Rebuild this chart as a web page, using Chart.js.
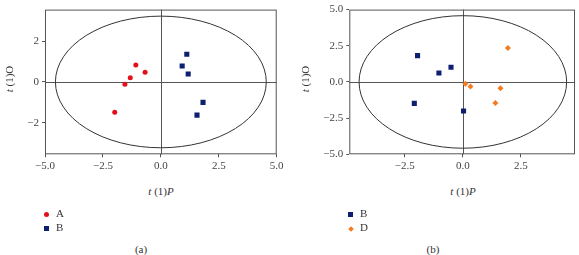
<!DOCTYPE html>
<html>
<head>
<meta charset="utf-8">
<script src="https://cdn.jsdelivr.net/npm/chart.js@4.4.1/dist/chart.umd.min.js"></script>
<style>
  body { margin: 0; background: #fff; font-family: "Liberation Serif", serif; color: #333; }
  #wrap { position: relative; width: 579px; height: 255px; overflow: hidden; }
  canvas { position: absolute; top: 0; }
  .lbl { position: absolute; font-size: 11px; white-space: nowrap; }
  .ytitle { transform: translate(-50%, -50%) rotate(-90deg); }
  .ctr { transform: translate(-50%, -50%); }
  .mk { position: absolute; }
</style>
</head>
<body>
<div id="wrap">
  <canvas id="chartA" width="290" height="175" style="left:0"></canvas>
  <canvas id="chartB" width="289" height="175" style="left:290px"></canvas>

  <div class="lbl ytitle" style="left:9px; top:79px"><i>t</i> (1)O</div>
  <div class="lbl ctr" style="left:161px; top:191px"><i>t</i> (1)<i>P</i></div>
  <div class="mk" style="left:44px; top:212px; width:5px; height:5px; border-radius:50%; background:#e3101a"></div>
  <div class="lbl" style="left:56px; top:207px">A</div>
  <div class="mk" style="left:44px; top:226px; width:5px; height:5px; background:#0d1f6e"></div>
  <div class="lbl" style="left:56px; top:221px">B</div>
  <div class="lbl ctr" style="left:141px; top:249px">(a)</div>

  <div class="lbl ytitle" style="left:305px; top:79px"><i>t</i> (1)O</div>
  <div class="lbl ctr" style="left:463px; top:191px"><i>t</i> (1)<i>P</i></div>
  <div class="mk" style="left:348px; top:212px; width:5px; height:5px; background:#0d1f6e"></div>
  <div class="lbl" style="left:360px; top:207px">B</div>
  <div class="mk" style="left:349px; top:227px; width:4px; height:4px; background:#f47b20; transform:rotate(45deg)"></div>
  <div class="lbl" style="left:360px; top:221px">D</div>
  <div class="lbl ctr" style="left:433px; top:249px">(b)</div>
</div>

<script>
// panel (a): groups A and B
const aX = [-1.08, -0.68, -1.32, -1.55, -1.99];
const aY = [0.83, 0.47, 0.2, -0.11, -1.49];
const bX = [1.12, 0.92, 1.18, 1.82, 1.56];
const bY = [1.36, 0.78, 0.39, -1.0, -1.63];
const xTicksA = [-5, -2.5, 0, 2.5, 5];
const yTicksA = [-2, 0, 2];

// panel (b): groups B and D
const b2X = [-1.95, -1.03, -0.51, -2.09, 0.03];
const b2Y = [1.82, 0.62, 1.02, -1.48, -2.01];
const dX = [1.94, 0.11, 0.33, 1.62, 1.40];
const dY = [2.35, -0.13, -0.31, -0.44, -1.46];
const xTicksB = [-2.5, 0, 2.5];
const yTicksB = [-5, -2.5, 0, 2.5, 5];

// Hotelling ellipse half-axes
const ellA = [4.55, 3.23];
const ellB = [4.47, 4.58];

const RED = '#e3101a';
const NAVY = '#0d1f6e';
const ORANGE = '#f47b20';

function pts(xs, ys) {
    return xs.map((x, i) => ({ x: x, y: ys[i] }));
}

function fmt(dec) {
    return v => v.toFixed(dec).replace('-', '\u2212');
}

// box, zero lines and ellipse
const framePlugin = {
    id: 'frame',
    beforeDatasetsDraw(chart, args, opts) {
        const { ctx, chartArea: a, scales } = chart;
        const x0 = scales.x.getPixelForValue(0);
        const y0 = scales.y.getPixelForValue(0);
        ctx.save();
        ctx.strokeStyle = '#555';
        ctx.lineWidth = 1;
        ctx.strokeRect(a.left + 0.5, a.top + 0.5, a.width - 1, a.height - 1);
        ctx.beginPath();
        ctx.moveTo(a.left, Math.round(y0) + 0.5);
        ctx.lineTo(a.right, Math.round(y0) + 0.5);
        ctx.moveTo(Math.round(x0) + 0.5, a.top);
        ctx.lineTo(Math.round(x0) + 0.5, a.bottom);
        ctx.stroke();
        const rx = scales.x.getPixelForValue(opts.rx) - x0;
        const ry = y0 - scales.y.getPixelForValue(opts.ry);
        ctx.strokeStyle = '#333';
        ctx.beginPath();
        ctx.ellipse(x0, y0, rx, ry, 0, 0, Math.PI * 2);
        ctx.stroke();
        ctx.restore();
    }
};

function makeChart(id, datasets, xr, yr, xt, yt, xDec, yDec, pad, yW, ell) {
    const tickFont = { family: 'Liberation Serif', size: 11 };
    return new Chart(document.getElementById(id), {
        type: 'scatter',
        data: { datasets: datasets },
        plugins: [framePlugin],
        options: {
            responsive: false,
            animation: false,
            layout: { padding: pad },
            plugins: {
                legend: { display: false },
                tooltip: { enabled: false },
                frame: { rx: ell[0], ry: ell[1] }
            },
            scales: {
                x: {
                    min: xr[0], max: xr[1],
                    afterBuildTicks: s => { s.ticks = xt.map(v => ({ value: v })); },
                    afterFit: s => { s.height = 20.7; },
                    border: { display: false },
                    grid: { drawOnChartArea: false, tickLength: 3, color: '#555' },
                    ticks: { font: tickFont, color: '#444', padding: 2, maxRotation: 0, callback: fmt(xDec) }
                },
                y: {
                    min: yr[0], max: yr[1],
                    afterBuildTicks: s => { s.ticks = yt.map(v => ({ value: v })); },
                    afterFit: s => { s.width = yW; },
                    border: { display: false },
                    grid: { drawOnChartArea: false, tickLength: 3, color: '#555' },
                    ticks: { font: tickFont, color: '#444', padding: 3, callback: fmt(yDec) }
                }
            }
        }
    });
}

makeChart('chartA', [
    { label: 'A', data: pts(aX, aY), pointStyle: 'circle', pointRadius: 2.5,
      backgroundColor: RED, borderColor: RED, borderWidth: 0 },
    { label: 'B', data: pts(bX, bY), pointStyle: 'rect', pointRadius: 3.6,
      backgroundColor: NAVY, borderColor: NAVY, borderWidth: 0 }
], [-5, 5], [-3.55, 3.55], xTicksA, yTicksA, 1, 0,
   { left: 0, right: 13.3, top: 3.5, bottom: 0 }, 45, ellA);

makeChart('chartB', [
    { label: 'B', data: pts(b2X, b2Y), pointStyle: 'rect', pointRadius: 3.6,
      backgroundColor: NAVY, borderColor: NAVY, borderWidth: 0 },
    { label: 'D', data: pts(dX, dY), pointStyle: 'rectRot', pointRadius: 3,
      backgroundColor: ORANGE, borderColor: ORANGE, borderWidth: 0 }
], [-4.89, 4.83], [-5, 5], xTicksB, yTicksB, 1, 1,
   { left: 0, right: 1.7, top: 4, bottom: 0 }, 59.3, ellB);
</script>
</body>
</html>
